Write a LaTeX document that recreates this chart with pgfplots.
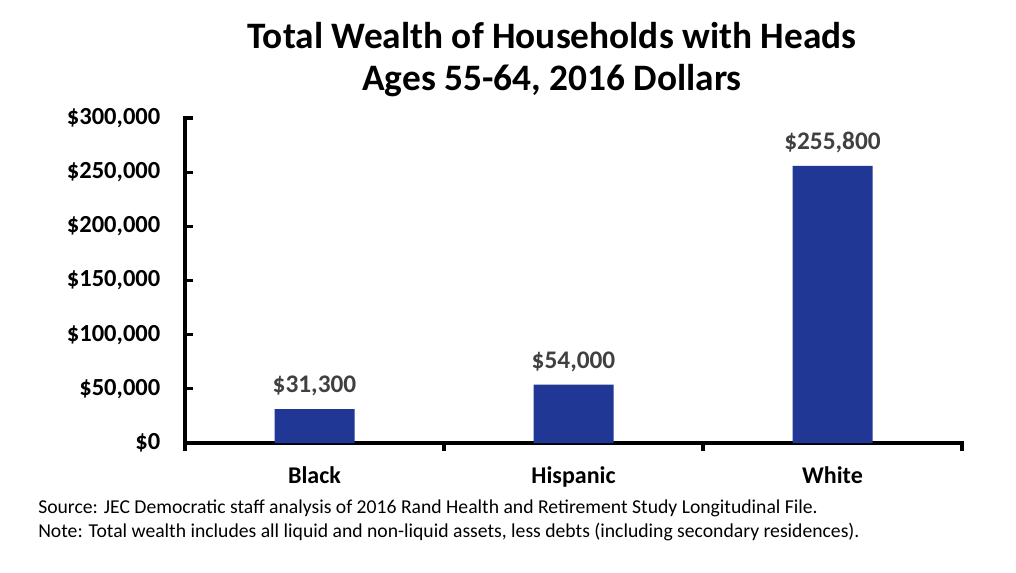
\documentclass[border=0pt]{standalone}
\usepackage{pgfplots}
\pgfplotsset{compat=1.18}
\usepackage{fontspec}
\setmainfont{Carlito}
\definecolor{barblue}{HTML}{203795}
\definecolor{lblgray}{HTML}{404040}
\begin{document}
\begin{tikzpicture}
\useasboundingbox (0,0) rectangle (762pt,-429pt);
\begin{axis}[
  at={(138.75pt,-332.25pt)}, anchor=south west,
  scale only axis, width=582.75pt, height=243.75pt,
  xmin=-0.5, xmax=2.5, ymin=0, ymax=300000,
  axis x line=bottom, axis y line=left,
  axis line style={-, line width=2.6pt, line cap=rect},
  xtick={-0.5,0.5,1.5,2.5}, xticklabels={},
  xtick align=outside,
  tick style={line width=2.4pt, black},
  major tick length=6pt,
  extra x ticks={0,1,2},
  extra x tick labels={Black,Hispanic,White},
  extra x tick style={major tick length=0pt, tick style={draw=none},
     xticklabel style={font=\fontsize{18}{20}\selectfont\bfseries, yshift=-14pt}},
  ytick={0,50000,100000,150000,200000,250000,300000},
  ytick align=inside,
  scaled y ticks=false,
  yticklabel={\$\pgfmathprintnumber[fixed,precision=0,1000 sep={,},assume math mode=true]{\tick}},
  yticklabel style={font=\fontsize{18.4}{20}\selectfont\bfseries, xshift=-15pt},
  ybar, bar width=60pt,
  nodes near coords={\$\pgfmathprintnumber[fixed,precision=0,1000 sep={,},assume math mode=true]{\pgfplotspointmeta}},
  nodes near coords style={font=\fontsize{19}{21}\selectfont\bfseries, text=lblgray, yshift=6pt},
  clip=false,
]
\addplot[fill=barblue, draw=none] coordinates {(0,31300) (1,54000) (2,255800)};
\end{axis}
\node[align=center, font=\fontsize{28}{31.5}\selectfont\bfseries] at (414pt,-45pt)
  {Total Wealth of Households with Heads\\Ages 55-64, 2016 Dollars};
\node[anchor=west, align=left, font=\fontsize{14.75}{18}\selectfont, inner sep=0pt] at (28.5pt,-390.5pt)
  {Source: JEC Democratic staff analysis of 2016 Rand Health and Retirement Study Longitudinal File.\\
   Note: Total wealth includes all liquid and non-liquid assets, less debts (including secondary residences).};
\end{tikzpicture}
\end{document}
